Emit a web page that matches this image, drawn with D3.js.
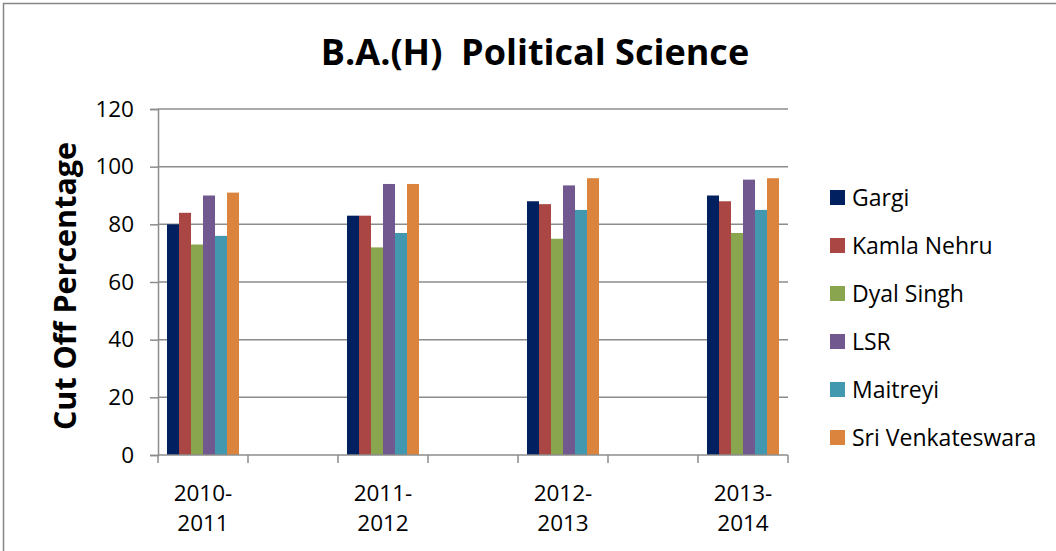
<!DOCTYPE html>
<html>
<head>
<meta charset="utf-8">
<script src="https://cdn.jsdelivr.net/npm/d3@7.9.0/dist/d3.min.js"></script>
<style>
  body { margin: 0; background: #fff; }
  svg { display: block; font-family: "Open Sans", sans-serif; }
  text { white-space: pre; }
</style>
</head>
<body>
<svg id="chart" width="1056" height="551"></svg>
<script>
// categories (Excel left blank slots between the years)
const years = ['2010-2011', '', '2011-2012', '', '2012-2013', '', '2013-2014'];
const colleges = ['Gargi', 'Kamla Nehru', 'Dyal Singh', 'LSR', 'Maitreyi', 'Sri Venkateswara'];
const colors = ['#002060', '#AA4643', '#89A54E', '#71588F', '#4198AF', '#DB843D'];

// cut off % per college, one value per year
const gargi = [80, 83, 88, 90];
const kamlaNehru = [84, 83, 87, 88];
const dyalSingh = [73, 72, 75, 77];
const lsr = [90, 94, 93.5, 95.5];
const maitreyi = [76, 77, 85, 85];
const sriVenkateswara = [91, 94, 96, 96];
const series = [gargi, kamlaNehru, dyalSingh, lsr, maitreyi, sriVenkateswara];

const yTicks = [0, 20, 40, 60, 80, 100, 120];

const svg = d3.select('#chart');
const margin = { left: 158, right: 268, top: 109, bottom: 96 };
const width = 1056 - margin.left - margin.right;
const height = 551 - margin.top - margin.bottom;

// outer chart border
svg.append('rect')
  .attr('x', 3.5).attr('y', 3.5)
  .attr('width', 1070).attr('height', 570)
  .attr('fill', 'none').attr('stroke', '#868686').attr('stroke-width', 1.5);

svg.append('text')
  .attr('x', 535).attr('y', 65)
  .attr('text-anchor', 'middle')
  .attr('font-size', 36).attr('font-weight', 'bold')
  .text('B.A.(H)  Political Science');

const g = svg.append('g').attr('transform', `translate(${margin.left},${margin.top})`);

const slots = d3.range(years.length);
const x = d3.scaleBand().domain(slots).range([0, width]);
// gap width 25%: the group takes step / 1.25, centred in its slot
const groupW = x.step() / 1.25;
const groupOff = (x.step() - groupW) / 2;
const x1 = d3.scaleBand().domain(d3.range(colleges.length))
  .range([groupOff, groupOff + groupW]);
const y = d3.scaleLinear().domain([0, 120]).range([height, 0]);

// grid lines
g.append('g')
  .selectAll('line')
  .data(yTicks.filter(d => d > 0))
  .join('line')
  .attr('x1', 0).attr('x2', width)
  .attr('y1', d => y(d)).attr('y2', d => y(d))
  .attr('stroke', '#8c8c8c').attr('stroke-width', 1.5);

// bars
const yearSlots = slots.filter(i => years[i] !== '');
series.forEach((vals, s) => {
  g.append('g')
    .selectAll('rect')
    .data(vals)
    .join('rect')
    .attr('x', (d, i) => x(yearSlots[i]) + x1(s))
    .attr('y', d => y(d))
    .attr('width', x1.bandwidth())
    .attr('height', d => height - y(d))
    .attr('fill', colors[s]);
});

// y axis
const yAxis = g.append('g')
  .call(d3.axisLeft(y).tickValues(yTicks).tickSize(8).tickPadding(16));
yAxis.select('.domain').attr('stroke', '#8c8c8c').attr('stroke-width', 1.5);
yAxis.selectAll('.tick line').attr('stroke', '#8c8c8c').attr('stroke-width', 1.5);
yAxis.selectAll('.tick text')
  .attr('font-size', 22.5).attr('fill', '#000')
  .attr('font-family', '"Open Sans", sans-serif');

// x axis with tick marks on slot edges
const xAxis = g.append('g').attr('transform', `translate(0,${height})`);
xAxis.append('line')
  .attr('x1', 0).attr('x2', width)
  .attr('stroke', '#8c8c8c').attr('stroke-width', 1.5);
xAxis.selectAll('.edge')
  .data(d3.range(years.length + 1))
  .join('line')
  .attr('x1', i => i * x.step()).attr('x2', i => i * x.step())
  .attr('y1', 0).attr('y2', 8)
  .attr('stroke', '#8c8c8c').attr('stroke-width', 1.5);

const labels = xAxis.selectAll('.lbl')
  .data(yearSlots)
  .join('text')
  .attr('text-anchor', 'middle')
  .attr('font-size', 22.5);
labels.append('tspan')
  .attr('x', i => x(i) + x.bandwidth() / 2).attr('y', 46)
  .text(i => years[i].split('-')[0] + '-');
labels.append('tspan')
  .attr('x', i => x(i) + x.bandwidth() / 2).attr('y', 76)
  .text(i => years[i].split('-')[1]);

// y title
svg.append('text')
  .attr('transform', 'translate(76,286) rotate(-90)')
  .attr('text-anchor', 'middle')
  .attr('font-size', 30.5).attr('font-weight', 'bold')
  .text('Cut Off Percentage');

// legend
const legend = svg.append('g').attr('transform', 'translate(830,190)');
const items = legend.selectAll('g')
  .data(colleges)
  .join('g')
  .attr('transform', (d, i) => `translate(0,${i * 48})`);
items.append('rect')
  .attr('width', 15).attr('height', 15)
  .attr('fill', (d, i) => colors[i]);
items.append('text')
  .attr('x', 22).attr('y', 15.5)
  .attr('font-size', 23)
  .text(d => d);
</script>
</body>
</html>
